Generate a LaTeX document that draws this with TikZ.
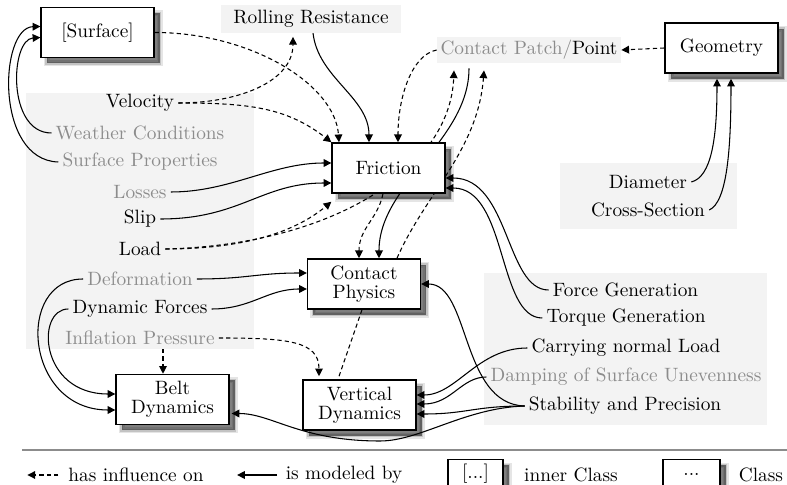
\documentclass[tikz,border=0pt]{standalone}
\usetikzlibrary{arrows.meta,shadows,calc}
\pgfdeclarelayer{bg}
\pgfdeclarelayer{edges}
\pgfsetlayers{bg,edges,main}
\definecolor{panel}{HTML}{F3F3F3}
\definecolor{soft}{HTML}{8C8C8C}
\begin{document}
\begin{tikzpicture}[x=0.518pt,y=-0.518pt,
  font=\fontsize{10}{10}\selectfont,
  box/.style={draw, line width=0.7pt, fill=white, minimum width=58.5pt,
    minimum height=26pt, align=center, inner sep=1pt,
    drop shadow={shadow xshift=3pt, shadow yshift=-3pt, opacity=0.10, fill=black, draw=black, line width=3pt},
    drop shadow={shadow xshift=3pt, shadow yshift=-3pt, opacity=0.15, fill=black, draw=black, line width=1.5pt},
    drop shadow={shadow xshift=3pt, shadow yshift=-3pt, opacity=0.35, fill=black, draw=none}},
  lbl/.style={inner sep=2pt},
  softlbl/.style={lbl, text=soft},
  con/.style={line width=0.55pt, -{Triangle[length=4pt,width=4pt]}},
  infl/.style={con, dash pattern=on 2.2pt off 1.6pt},
  dashline/.style={line width=0.55pt, dash pattern=on 2.2pt off 1.6pt},
  tag/.style={fill=panel, inner sep=0pt, minimum height=14pt}]

\useasboundingbox (0,0) rectangle (787,485);

% class boxes
\node[box] (surf)  at (97.5,32.5) {[Surface]};
\node[box] (fric)  at (388.5,168) {Friction};
\node[box] (geom)  at (721.5,48)  {Geometry};
\node[box] (cphys) at (364,284)   {Contact\\Physics};
\node[box] (vdyn)  at (359.5,405) {Vertical\\Dynamics};
\node[box] (bdyn)  at (172.5,399.5) {Belt\\Dynamics};

% tagged labels
\node[tag, minimum width=93.2pt] (roll) at (311,19) {Rolling Resistance};
\node[tag, minimum width=95.3pt, minimum height=13.5pt] (cpatch) at (529,50) {\textcolor{soft}{Contact Patch/}Point};

% left labels
\node[lbl]     (vel)      at (140,103) {Velocity};
\node[softlbl] (weather)  at (140,133) {Weather Conditions};
\node[softlbl] (surfprop) at (140,162) {Surface Properties};
\node[softlbl] (losses)   at (140,192) {Losses};
\node[lbl]     (slip)     at (140,219) {Slip};
\node[lbl]     (load)     at (140,249) {Load};
\node[softlbl] (deform)   at (140,279) {Deformation};
\node[lbl]     (dynf)     at (140,309) {Dynamic Forces};
\node[softlbl] (infl)     at (140,338) {Inflation Pressure};

% right labels
\node[lbl]     (diam)   at (648,182) {Diameter};
\node[lbl]     (cross)  at (648,210) {Cross-Section};
\node[lbl]     (forceg) at (625.5,290) {Force Generation};
\node[lbl]     (torque) at (626,318) {Torque Generation};
\node[lbl]     (carry)  at (626,348) {Carrying normal Load};
\node[softlbl] (damp)   at (626,377) {Damping of Surface Unevenness};
\node[lbl]     (stab)   at (625,406) {Stability and Precision};

\begin{pgfonlayer}{bg}
  \fill[panel] (26,93) rectangle (254,349);
  \fill[panel] (484,273) rectangle (767,425);
  \fill[panel] (560,163) rectangle (737,229);
\end{pgfonlayer}

\begin{pgfonlayer}{edges}
  % into Friction from above
  \draw[infl] (surf.east) .. controls +(96,0) and +(-4,-58) .. ($(fric.north)+(-49.5,0)$);
  \draw[con] ($(roll.south)+(2,0)$) .. controls +(5,45) and +(0,-45) .. ($(fric.north)+(-19.5,0)$);
  \draw[infl] (vel.east) .. controls +(60,0) and +(0,45) .. ($(roll.south)+(-18,4)$);
  \draw[infl] (vel.east) .. controls +(70,0) and +(-45,-35) .. (fric.north west);
  \draw[infl] (cpatch.west) .. controls +(-25,5) and +(0,-45) .. ($(fric.north)+(9.5,0)$);
  % Surface
  \draw[con] (surfprop.west) .. controls +(-64,-2) and +(-41,1) .. ($(surf.west)+(0,-6)$);
  \draw[con] (weather.west) .. controls +(-45,0) and +(-30,2) .. ($(surf.west)+(0,5)$);
  % into Friction from the left
  \draw[con] (losses.east) .. controls +(60,0) and +(-60,0) .. ($(fric.west)+(0,-5)$);
  \draw[con] (slip.east) .. controls +(80,0) and +(-70,0) .. ($(fric.west)+(0,15)$);
  \draw[infl] (load.east) .. controls +(90,0) and +(-30,25) .. ($(fric.south west)+(0,8)$);
  \draw[infl] (load.east) .. controls +(166,-4) and +(-4,100) .. ($(cpatch.south)+(-75,7)$);
  % through Friction
  \draw[con] ($(cpatch.south)+(-60,5)$) .. controls +(0,72) and +(0,-74) .. ($(cphys.north)+(15,0)$);
  \draw[infl] ($(fric.south)+(-5.5,0)$) .. controls +(-5,25) and +(0,-30) .. ($(cphys.north)+(-5,0)$);
  \draw[infl] ($(cphys.north)+(33,0)$) .. controls +(28,-64) and +(-6,80) .. ($(cpatch.south)+(-45,7)$);
  % Geometry
  \draw[infl] (geom.west) -- (cpatch.east);
  \draw[con] (diam.east) .. controls +(20,-5) and +(0,60) .. ($(geom.south)+(-4.5,5)$);
  \draw[con] (cross.east) .. controls +(18,-8) and +(0,70) .. ($(geom.south)+(9.5,5)$);
  % into Friction from the right
  \draw[con] (forceg.west) .. controls +(-43,0) and +(64,0) .. ($(fric.east)+(0,10)$);
  \draw[con] (torque.west) .. controls +(-45,0) and +(62,0) .. ($(fric.east)+(0,20)$);
  % Vertical Dynamics
  \draw[con] (carry.west) .. controls +(-50,0) and +(40,0) .. ($(vdyn.east)+(0,-10)$);
  \draw[con] (damp.west) .. controls +(-25,0) and +(35,0) .. ($(vdyn.east)+(0,-1)$);
  \draw[con] (stab.west) .. controls +(-50,0) and +(50,0) .. ($(vdyn.east)+(0,9)$);
  \draw[con] (stab.west) .. controls +(-64,-2) and +(49,0) .. (cphys.east);
  \draw[con] (stab.west) .. controls +(-60,2) and +(40,0) .. (380,441)
             .. controls +(-80,0) and +(40,0) .. ($(bdyn.east)+(2,14)$);
  % Contact Physics
  \draw[con] (deform.east) .. controls +(50,0) and +(-50,0) .. ($(cphys.west)+(0,-11)$);
  \draw[con] (dynf.east) .. controls +(40,0) and +(-40,0) .. ($(cphys.west)+(0,5)$);
  \draw[dashline] ($(cphys.south)+(-2,0)$) -- ($(vdyn.north)+(-21.5,0)$);
  % Belt Dynamics
  \draw[con] (deform.west) .. controls +(-68,0) and +(-91,0) .. ($(bdyn.west)+(0,10.5)$);
  \draw[con] (dynf.west) .. controls +(-33,0) and +(-76,0) .. ($(bdyn.west)+(0,-5.5)$);
  \draw[infl] ($(infl.south)+(23,0)$) -- ($(bdyn.north)+(-9.5,0)$);
  \draw[infl] (infl.east) .. controls +(70,0) and +(0,-35) .. ($(vdyn.north)+(-40.5,-3)$);
\end{pgfonlayer}

% legend
\draw[soft, line width=0.6pt] (22,450) -- (787,450);
\node[lbl] (leg1) at (136,475) {has influence on};
\draw[infl] ([xshift=-3pt]leg1.west) -- ([xshift=-19pt]leg1.west);
\node[lbl] (leg2) at (344,475) {is modeled by};
\draw[con] ([xshift=-2.3pt]leg2.west) -- ([xshift=-23pt]leg2.west);
\node[box, minimum width=28.5pt, anchor=north] (leginner) at (475.5,459) {};
\node[lbl] (leginnert) at (475.5,474) {[...]};
\node[lbl] (leg3) at (571,475) {inner Class};
\node[box, minimum width=29.5pt, anchor=north] (legclass) at (691.5,459) {};
\node[lbl] (legclasst) at (691.5,474) {...};
\node[lbl] (leg4) at (761,475) {Class};
\end{tikzpicture}
\end{document}
